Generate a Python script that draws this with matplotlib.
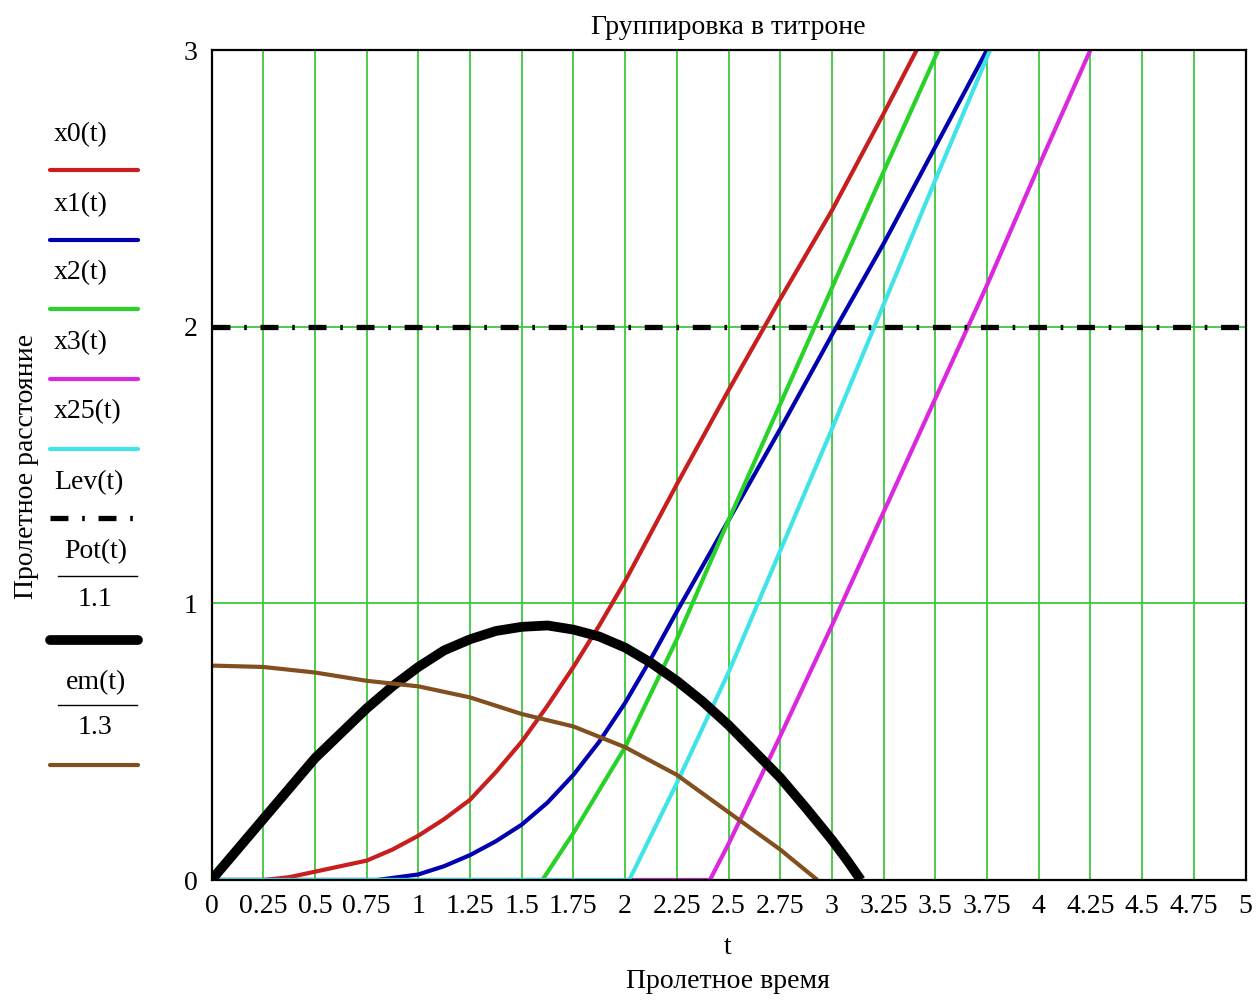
import numpy as np
import matplotlib
matplotlib.use("Agg")
import matplotlib.pyplot as plt
from matplotlib.lines import Line2D

plt.rcParams['font.family'] = ['Liberation Serif', 'DejaVu Serif']

# ---- data ----
t_x0 = [0, 0.25, 0.375, 0.5, 0.625, 0.75, 0.875, 1.0, 1.125, 1.25, 1.375, 1.5, 1.625,
        1.75, 1.875, 2.0, 2.25, 2.5, 2.75, 3.0, 3.25, 3.41]
x0 = [0, 0.0, 0.01, 0.03, 0.05, 0.07, 0.11, 0.16, 0.22, 0.29, 0.39, 0.50, 0.63,
      0.77, 0.92, 1.08, 1.43, 1.77, 2.10, 2.42, 2.77, 3.0]

t_x1 = [0, 0.8, 1.0, 1.125, 1.25, 1.375, 1.5, 1.625, 1.75, 1.875, 2.0, 2.125, 2.25,
        2.5, 2.75, 3.0, 3.25, 3.5, 3.75]
x1 = [0, 0, 0.02, 0.05, 0.09, 0.14, 0.20, 0.28, 0.38, 0.50, 0.64, 0.80, 0.97,
      1.30, 1.63, 1.97, 2.30, 2.65, 3.0]

t_x2 = [0, 1.6, 1.75, 2.0, 2.25, 2.5, 2.75, 3.0, 3.25, 3.515]
x2 = [0, 0, 0.17, 0.48, 0.87, 1.30, 1.72, 2.14, 2.56, 3.0]

t_x3 = [0, 2.41, 2.5, 2.75, 3.0, 3.25, 3.5, 3.75, 4.0, 4.25]
x3 = [0, 0, 0.13, 0.52, 0.92, 1.33, 1.74, 2.15, 2.58, 3.0]

t_x25 = [0, 2.02, 2.25, 2.5, 2.75, 3.0, 3.25, 3.5, 3.765]
x25 = [0, 0, 0.35, 0.75, 1.19, 1.63, 2.08, 2.53, 3.0]

t_lev = [0, 5]
lev = [2, 2]

t_pot = [0, 0.125, 0.25, 0.375, 0.5, 0.625, 0.75, 0.875, 1.0, 1.125, 1.25, 1.375, 1.5,
         1.625, 1.75, 1.875, 2.0, 2.125, 2.25, 2.375, 2.5, 2.625, 2.75, 2.875, 3.0,
         3.07, 3.14]
pot = [0, 0.11, 0.22, 0.33, 0.44, 0.53, 0.62, 0.70, 0.77, 0.83, 0.87, 0.90, 0.915,
       0.92, 0.905, 0.88, 0.84, 0.785, 0.72, 0.645, 0.56, 0.465, 0.37, 0.26, 0.145,
       0.075, 0.0]

t_em = [0, 0.25, 0.5, 0.75, 1.0, 1.25, 1.5, 1.75, 2.0, 2.25, 2.5, 2.75, 2.93]
em = [0.775, 0.77, 0.75, 0.72, 0.70, 0.66, 0.60, 0.555, 0.48, 0.38, 0.245, 0.11, 0.0]

xticks = [0, 0.25, 0.5, 0.75, 1, 1.25, 1.5, 1.75, 2, 2.25, 2.5, 2.75, 3, 3.25, 3.5,
          3.75, 4, 4.25, 4.5, 4.75, 5]
xtick_labels = ['0', '0.25', '0.5', '0.75', '1', '1.25', '1.5', '1.75', '2', '2.25',
                '2.5', '2.75', '3', '3.25', '3.5', '3.75', '4', '4.25', '4.5', '4.75', '5']
yticks = [0, 1, 2, 3]

C_RED = '#C81E1E'
C_BLUE = '#0000B0'
C_GREEN = '#28D228'
C_MAG = '#DC28DC'
C_CYAN = '#40E4E8'
C_BROWN = '#82501E'
C_GRID = '#3CC83C'

W, H = 1259, 1001
fig = plt.figure(figsize=(W / 100, H / 100), dpi=100)
L, R, T, B = 211.5, 1245.5, 50, 880
ax = fig.add_axes([L / W, 1 - B / H, (R - L) / W, (B - T) / H])

FS = 20
dash_lev = (0, (3.4, 2.6, 0.5, 2.6))

ax.plot(t_x0, x0, color=C_RED, lw=3.0, solid_capstyle='butt')
ax.plot(t_x1, x1, color=C_BLUE, lw=3.0, solid_capstyle='butt')
ax.plot(t_x2, x2, color=C_GREEN, lw=3.0, solid_capstyle='butt')
ax.plot(t_x3, x3, color=C_MAG, lw=3.0, solid_capstyle='butt')
ax.plot(t_x25, x25, color=C_CYAN, lw=3.0, solid_capstyle='butt')
ax.plot(t_lev, lev, color='black', lw=3.8, linestyle=dash_lev, dash_capstyle='butt')
ax.plot(t_pot, pot, color='black', lw=7.0, solid_capstyle='butt', solid_joinstyle='round')
ax.plot(t_em, em, color=C_BROWN, lw=3.0, solid_capstyle='butt')

ax.set_xlim(0, 5)
ax.set_ylim(0, 3)
ax.set_xticks(xticks)
ax.set_xticklabels(xtick_labels)
ax.set_yticks(yticks)
ax.tick_params(axis='both', length=0, labelsize=FS, pad=10)
ax.grid(True, color=C_GRID, lw=1.3)
ax.set_axisbelow(True)
for s in ax.spines.values():
    s.set_color('black')
    s.set_linewidth(1.6)

# titles / axis labels
fig.text(728 / W, 1 - 27 / H, 'Группировка в титроне', ha='center', va='center', fontsize=FS)
fig.text(728 / W, 1 - 947 / H, 't', ha='center', va='center', fontsize=FS)
fig.text(728 / W, 1 - 982 / H, 'Пролетное время', ha='center', va='center', fontsize=FS)
fig.text(27 / W, 1 - 466 / H, 'Пролетное расстояние', ha='center', va='center',
         rotation=90, fontsize=FS)

# left legend (Mathcad-style)
def fx(px):
    return px / W

def fy(py):
    return 1 - py / H

leg_entries = [
    ('x0(t)', 135, 170, dict(color=C_RED, lw=3.0)),
    ('x1(t)', 205, 240, dict(color=C_BLUE, lw=3.0)),
    ('x2(t)', 273, 309, dict(color=C_GREEN, lw=3.0)),
    ('x3(t)', 343, 379, dict(color=C_MAG, lw=3.0)),
    ('x25(t)', 412, 449, dict(color=C_CYAN, lw=3.0)),
    ('Lev(t)', 483, 518, dict(color='black', lw=3.8, linestyle=dash_lev)),
]
for lab, ty, ly, kw in leg_entries:
    fig.text(fx(54), fy(ty), lab, ha='left', va='center', fontsize=FS)
    fig.add_artist(Line2D([fx(50), fx(138)], [fy(ly), fy(ly)], solid_capstyle='round', **kw))

for num, den, ty, by, dy, ly, kw in [
        ('Pot(t)', '1.1', 552, 576, 600, 640, dict(color='black', lw=7.0)),
        ('em(t)', '1.3', 683, 705, 727, 765, dict(color=C_BROWN, lw=3.0))]:
    fig.text(fx(96), fy(ty), num, ha='center', va='center', fontsize=FS)
    fig.add_artist(Line2D([fx(58), fx(137)], [fy(by), fy(by)], color='black', lw=1.0))
    fig.text(fx(95), fy(dy), den, ha='center', va='center', fontsize=FS)
    fig.add_artist(Line2D([fx(50), fx(138)], [fy(ly), fy(ly)], solid_capstyle='round', **kw))

fig.savefig('out.png', dpi=100)
